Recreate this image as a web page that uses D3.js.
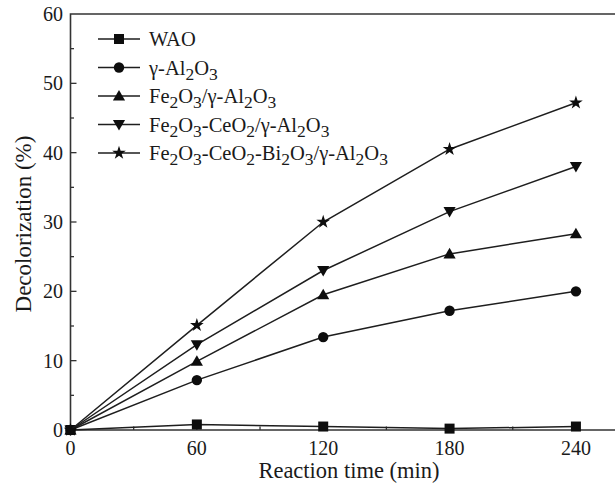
<!DOCTYPE html>
<html>
<head>
  <meta charset="utf-8">
  <title>Decolorization</title>
  <script src="https://d3js.org/d3.v7.min.js"></script>
  <style>
    body { margin: 0; background: #fff; }
    text { font-family: "Liberation Serif", "Times New Roman", serif; fill: #1a1a1a; }
  </style>
</head>
<body>
  <script>
    // data
    var times = [0, 60, 120, 180, 240];
    var wao = [0, 0.8, 0.5, 0.2, 0.5];
    var al2o3 = [0, 7.2, 13.4, 17.2, 20.0];
    var feAl = [0, 9.9, 19.5, 25.4, 28.3];
    var feCeAl = [0, 12.3, 23.0, 31.5, 38.0];
    var feCeBiAl = [0, 15.1, 30.0, 40.5, 47.2];
    var seriesNames = ['WAO', 'γ-Al_2O_3', 'Fe_2O_3/γ-Al_2O_3', 'Fe_2O_3-CeO_2/γ-Al_2O_3', 'Fe_2O_3-CeO_2-Bi_2O_3/γ-Al_2O_3'];
    var xTicks = [0, 60, 120, 180, 240];
    var yTicks = [0, 10, 20, 30, 40, 50, 60];

    var series = [
      { name: seriesNames[0], values: wao, shape: 'square' },
      { name: seriesNames[1], values: al2o3, shape: 'circle' },
      { name: seriesNames[2], values: feAl, shape: 'up' },
      { name: seriesNames[3], values: feCeAl, shape: 'down' },
      { name: seriesNames[4], values: feCeBiAl, shape: 'star' }
    ];

    var W = 615, H = 487;
    var svg = d3.select('body').append('svg')
      .attr('width', W)
      .attr('height', H);

    var x = d3.scaleLinear().domain([0, 270]).range([70.5, 639.1]);
    var y = d3.scaleLinear().domain([0, 60]).range([430, 14]);

    var axisColor = '#333';

    // frame (right side falls outside the picture)
    svg.append('path')
      .attr('d', 'M' + x(0) + ',' + y(0) + 'V' + y(60) + 'H' + x(270) + 'V' + y(0) + 'Z')
      .attr('fill', 'none')
      .attr('stroke', axisColor)
      .attr('stroke-width', 1.6);

    // inward ticks
    var xMinor = d3.range(30, 270, 60);
    var yMinor = d3.range(5, 60, 10);
    var ticks = svg.append('g').attr('stroke', axisColor).attr('stroke-width', 1.3);
    ticks.selectAll('.xt').data(xTicks.slice(1)).enter().append('line')
      .attr('x1', function(d) { return x(d); }).attr('x2', function(d) { return x(d); })
      .attr('y1', y(0)).attr('y2', y(0) - 6);
    ticks.selectAll('.xm').data(xMinor).enter().append('line')
      .attr('x1', function(d) { return x(d); }).attr('x2', function(d) { return x(d); })
      .attr('y1', y(0)).attr('y2', y(0) - 3.5);
    ticks.selectAll('.yt').data(yTicks.slice(1, -1)).enter().append('line')
      .attr('x1', x(0)).attr('x2', x(0) + 6)
      .attr('y1', function(d) { return y(d); }).attr('y2', function(d) { return y(d); });
    ticks.selectAll('.ym').data(yMinor).enter().append('line')
      .attr('x1', x(0)).attr('x2', x(0) + 3.5)
      .attr('y1', function(d) { return y(d); }).attr('y2', function(d) { return y(d); });

    // tick labels
    svg.selectAll('.xl').data(xTicks).enter().append('text')
      .attr('x', function(d) { return x(d); })
      .attr('y', 455)
      .attr('text-anchor', 'middle')
      .style('font-size', '20px')
      .text(function(d) { return d; });
    svg.selectAll('.yl').data(yTicks).enter().append('text')
      .attr('x', 63)
      .attr('y', function(d) { return y(d) + 7; })
      .attr('text-anchor', 'end')
      .style('font-size', '20px')
      .text(function(d) { return d; });

    // axis titles
    svg.append('text')
      .attr('x', 349)
      .attr('y', 478)
      .attr('text-anchor', 'middle')
      .style('font-size', '22.5px')
      .text('Reaction time (min)');
    svg.append('text')
      .attr('transform', 'translate(31,224) rotate(-90)')
      .attr('text-anchor', 'middle')
      .style('font-size', '23px')
      .text('Decolorization (%)');

    // markers
    function symbolPath(shape) {
      if (shape === 'square') return d3.symbol(d3.symbolSquare, 100)();
      if (shape === 'circle') return d3.symbol(d3.symbolCircle, 85)();
      if (shape === 'star') return d3.symbol(d3.symbolStar, 58)();
      return d3.symbol(d3.symbolTriangle, 64)();
    }
    function symbolTransform(shape, px, py) {
      var t = 'translate(' + px + ',' + py + ')';
      if (shape === 'up') t += ' translate(0,1)';
      if (shape === 'down') t += ' translate(0,-1) rotate(180)';
      return t;
    }

    var line = d3.line()
      .x(function(d, i) { return x(times[i]); })
      .y(function(d) { return y(d); });

    var g = svg.selectAll('.series').data(series).enter().append('g');
    g.append('path')
      .attr('d', function(s) { return line(s.values); })
      .attr('fill', 'none')
      .attr('stroke', '#1e1e1e')
      .attr('stroke-width', 1.5);
    g.each(function(s) {
      d3.select(this).selectAll('.m').data(s.values).enter().append('path')
        .attr('d', symbolPath(s.shape))
        .attr('transform', function(d, i) { return symbolTransform(s.shape, x(times[i]), y(d)); })
        .attr('fill', '#0d0d0d');
    });

    // legend
    var legend = svg.append('g');
    var rowY = [39, 67.5, 96, 124.5, 153];
    var item = legend.selectAll('.li').data(series).enter().append('g')
      .attr('transform', function(d, i) { return 'translate(0,' + rowY[i] + ')'; });
    item.append('line')
      .attr('x1', 98).attr('x2', 140)
      .attr('stroke', '#1e1e1e').attr('stroke-width', 1.5);
    item.append('path')
      .attr('d', function(d) { return symbolPath(d.shape); })
      .attr('transform', function(d) { return symbolTransform(d.shape, 119, 0); })
      .attr('fill', '#0d0d0d');
    item.append('text')
      .attr('x', 149)
      .attr('y', 7)
      .style('font-size', '20.5px')
      .each(function(d) {
        var t = d3.select(this);
        var parts = d.name.split(/_(\d)/);
        parts.forEach(function(p, k) {
          if (!p) return;
          if (k % 2 === 1) {
            t.append('tspan').attr('dy', 5).style('font-size', '17.5px').text(p);
          } else {
            t.append('tspan').attr('dy', k > 0 ? -5 : 0).text(p);
          }
        });
      });
  </script>
</body>
</html>
